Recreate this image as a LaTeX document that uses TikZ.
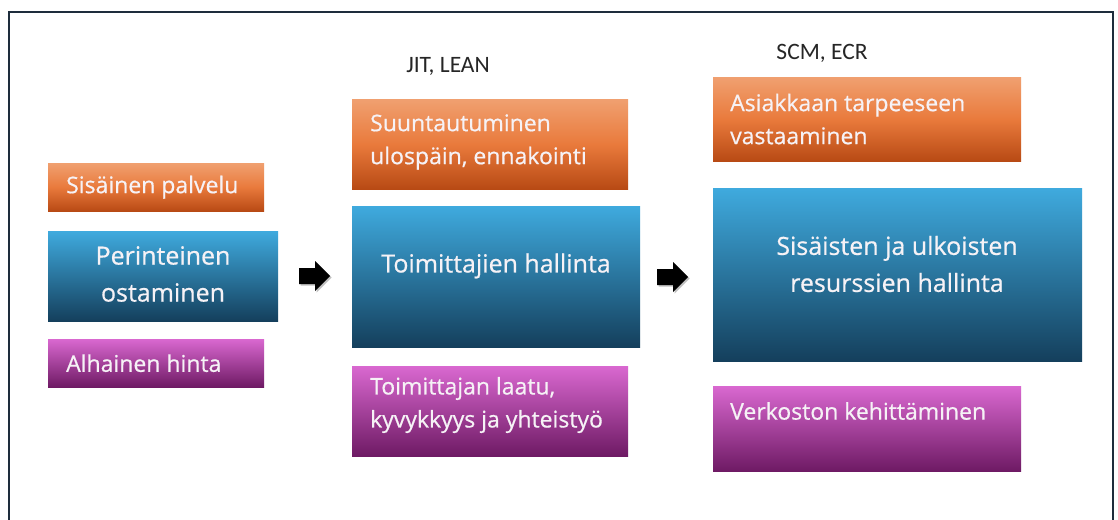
\documentclass[tikz,border=0pt]{standalone}
\usepackage{fontspec}
\setmainfont{Open Sans}[FakeBold=0.6]
\newfontfamily\labfont{Carlito}
\usetikzlibrary{calc}
\definecolor{frameC}{HTML}{1E2D3C}
\definecolor{oTop}{HTML}{F0A070}
\definecolor{oMid}{HTML}{E97A3C}
\definecolor{oBot}{HTML}{B84A14}
\definecolor{bTop}{HTML}{3FAADE}
\definecolor{bBot}{HTML}{143F5C}
\definecolor{pTop}{HTML}{D968D0}
\definecolor{pBot}{HTML}{6E1A64}
\definecolor{txtC}{HTML}{F6F2F6}
\tikzset{
  box/.style={rectangle, inner sep=0pt, anchor=north west, draw=none},
  obox/.style={box, top color=oTop, bottom color=oBot, middle color=oMid},
  bbox/.style={box, top color=bTop, bottom color=bBot},
  pbox/.style={box, top color=pTop, bottom color=pBot},
  stext/.style={text=txtC, font=\fontsize{23}{33}\selectfont, align=left, anchor=west, inner sep=0pt},
  btext/.style={text=txtC, font=\fontsize{25}{37}\selectfont, align=center, inner sep=0pt},
  head/.style={font=\labfont\fontsize{23.5}{26}\selectfont, text=black!85, inner sep=0pt},
  blockarrow/.style={fill=black},
  arrowshadow/.style={fill=black!25}
}
\newcommand{\blockarr}[2]{%
  \fill[arrowshadow] ($(#1,#2)+(1.5,1.5)$) -- ++(16,0) -- ++(0,-7) -- ++(15,15) -- ++(-15,15) -- ++(0,-7) -- ++(-16,0) -- cycle;
  \fill[blockarrow] (#1,#2) -- ++(16,0) -- ++(0,-7) -- ++(15,15) -- ++(-15,15) -- ++(0,-7) -- ++(-16,0) -- cycle;}
\begin{document}
\begin{tikzpicture}[x=1pt,y=-1pt]
\useasboundingbox (0,0) rectangle (1118,519);
\clip (0,0) rectangle (1118,519);
\fill[white] (0,0) rectangle (1118,519);
\draw[frameC, line width=1.8pt] (9,12) rectangle (1113,540);

% column 1
\node[obox, minimum width=216pt, minimum height=48pt] (c1a) at (48,163) {};
\node[stext] (t1a) at ($(c1a.west)+(18,0)$) {Sisäinen palvelu};
\node[bbox, minimum width=230pt, minimum height=90pt] (c1b) at (48,231) {};
\node[btext] (t1b) at (163,274) {Perinteinen\\ostaminen};
\node[pbox, minimum width=216pt, minimum height=48pt] (c1c) at (48,339) {};
\node[stext] (t1c) at ($(c1c.west)+(18,0)$) {Alhainen hinta};

% block arrows (shaft top-left corner given)
\blockarr{299}{268}
\blockarr{657}{269}

% column 2
\node[head] (h2) at (448,66) {JIT, LEAN};
\node[obox, minimum width=276pt, minimum height=90pt] (c2a) at (352,99) {};
\node[stext] (t2a) at (370,142) {Suuntautuminen\\ulospäin, ennakointi};
\node[bbox, minimum width=288pt, minimum height=141pt] (c2b) at (352,206) {};
\node[btext] (t2b) at (496,266) {Toimittajien hallinta};
\node[pbox, minimum width=276pt, minimum height=90pt] (c2c) at (352,366) {};
\node[stext] (t2c) at (370,405) {Toimittajan laatu,\\kyvykkyys ja yhteistyö};

% column 3
\node[head] (h3) at (822,53) {SCM, ECR};
\node[obox, minimum width=308pt, minimum height=84pt] (c3a) at (713,77) {};
\node[stext] (t3a) at (730,119) {Asiakkaan tarpeeseen\\vastaaminen};
\node[bbox, minimum width=369pt, minimum height=173pt] (c3b) at (713,188) {};
\node[btext] (t3b) at (897,264) {Sisäisten ja ulkoisten\\resurssien hallinta};
\node[pbox, minimum width=308pt, minimum height=85pt] (c3c) at (713,386) {};
\node[stext] (t3c) at (730,411) {Verkoston kehittäminen};
\end{tikzpicture}
\end{document}
